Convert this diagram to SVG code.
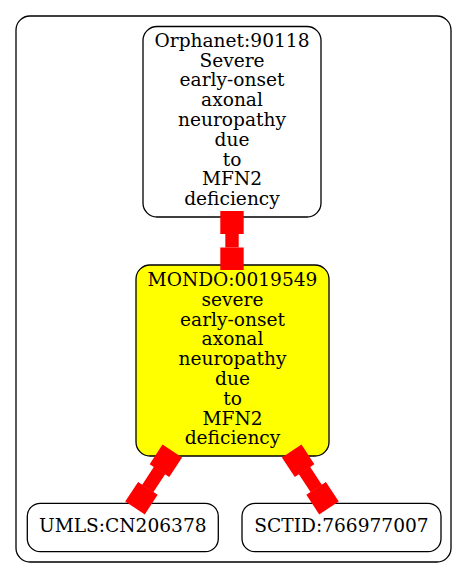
<svg xmlns="http://www.w3.org/2000/svg" width="467" height="579" viewBox="0 0 467 579">
<style>
.box{fill:#ffffff;stroke:#000000;stroke-width:1.3}
.hl{fill:#ffff00}
.lbl{font-family:"DejaVu Serif","Liberation Serif",serif;font-size:18.6px;fill:#000000;text-anchor:middle}
.edge rect{fill:#ff0000;stroke:none}
</style>
<rect width="467" height="579" fill="#ffffff"/>
<g id="cluster">
<rect x="16" y="16" width="435" height="546" rx="14" ry="14" fill="none" stroke="#000000" stroke-width="1.3"/>
</g>
<g id="node-orphanet">
<rect class="box" x="143" y="26.5" width="178" height="190.5" rx="14" ry="14"/>
<text class="lbl" x="232" y="46.7">Orphanet:90118</text>
<text class="lbl" x="232" y="66.5">Severe</text>
<text class="lbl" x="232" y="86.3">early-onset</text>
<text class="lbl" x="232" y="106.1">axonal</text>
<text class="lbl" x="232" y="125.9">neuropathy</text>
<text class="lbl" x="232" y="145.7">due</text>
<text class="lbl" x="232" y="165.5">to</text>
<text class="lbl" x="232" y="185.3">MFN2</text>
<text class="lbl" x="232" y="205.1">deficiency</text>
</g>
<g id="node-mondo">
<rect class="box hl" x="136" y="265" width="193" height="191" rx="14" ry="14"/>
<text class="lbl" x="232.5" y="286">MONDO:0019549</text>
<text class="lbl" x="232.5" y="305.8">severe</text>
<text class="lbl" x="232.5" y="325.6">early-onset</text>
<text class="lbl" x="232.5" y="345.4">axonal</text>
<text class="lbl" x="232.5" y="365.2">neuropathy</text>
<text class="lbl" x="232.5" y="385">due</text>
<text class="lbl" x="232.5" y="404.8">to</text>
<text class="lbl" x="232.5" y="424.6">MFN2</text>
<text class="lbl" x="232.5" y="444.4">deficiency</text>
</g>
<g id="node-umls">
<rect class="box" x="27.3" y="503.3" width="191" height="48.4" rx="13" ry="13"/>
<text class="lbl" x="122.8" y="532.3">UMLS:CN206378</text>
</g>
<g id="node-sctid">
<rect class="box" x="242" y="503.3" width="199" height="48.4" rx="13" ry="13"/>
<text class="lbl" x="341.5" y="532.3">SCTID:766977007</text>
</g>
<g id="connectors" class="edge">
<g transform="translate(232,211)">
<rect x="-11.7" y="0" width="23.4" height="23"/>
<rect x="-6.7" y="22.5" width="13.4" height="14"/>
<rect x="-11.7" y="36.5" width="23.4" height="22.5"/>
</g>
<g transform="translate(172.3,451) rotate(33.2)">
<rect x="-11.7" y="0" width="23.4" height="23.5"/>
<rect x="-6.7" y="23" width="13.4" height="22"/>
<rect x="-11.7" y="44.6" width="23.4" height="23.5"/>
</g>
<g transform="translate(291.7,451) rotate(-33.2)">
<rect x="-11.7" y="0" width="23.4" height="23.5"/>
<rect x="-6.7" y="23" width="13.4" height="22"/>
<rect x="-11.7" y="44.6" width="23.4" height="23.5"/>
</g>
</g>
</svg>
